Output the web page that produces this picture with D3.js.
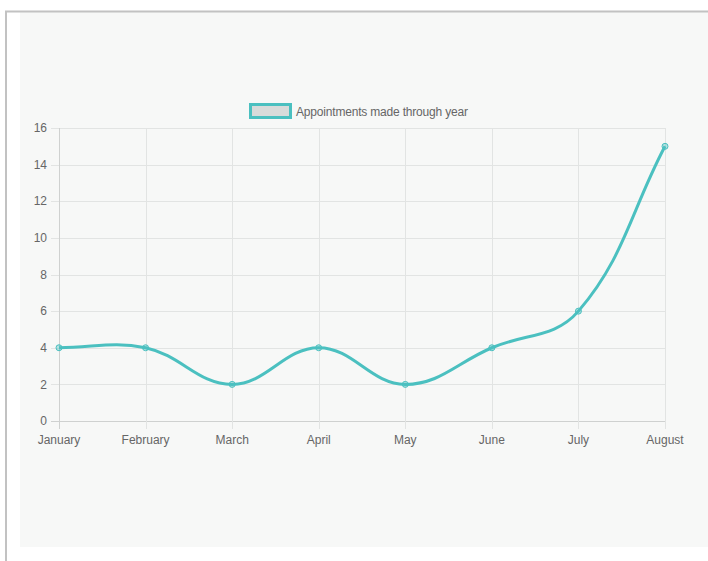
<!DOCTYPE html>
<html>
<head>
<meta charset="utf-8">
<script src="https://cdn.jsdelivr.net/npm/d3@7"></script>
<style>
  html, body { margin: 0; padding: 0; background: #ffffff; }
  svg { display: block; }
  text { font-family: "Liberation Sans", Arial, Helvetica, sans-serif; }
</style>
</head>
<body>
<script>
const months = ["January", "February", "March", "April", "May", "June", "July", "August"];
const appointments = [4, 4, 2, 4, 2, 4, 6, 15];
const yTicks = [0, 2, 4, 6, 8, 10, 12, 14, 16];
const seriesLabel = "Appointments made through year";

const W = 708, H = 561;
const svg = d3.select("body").append("svg").attr("width", W).attr("height", H);

// frame
svg.append("rect").attr("x", 20).attr("y", 12).attr("width", W - 20).attr("height", 535).attr("fill", "#f7f8f7");
svg.append("line").attr("x1", 6).attr("x2", 6).attr("y1", 11).attr("y2", H).attr("stroke", "#c2c2c2").attr("stroke-width", 2);
svg.append("line").attr("x1", 5).attr("x2", W).attr("y1", 11.5).attr("y2", 11.5).attr("stroke", "#c2c2c2").attr("stroke-width", 2);

const x = d3.scalePoint().domain(months).range([59, 665]);
const y = d3.scaleLinear().domain([0, 16]).range([421, 128]);

const gridColor = "#e2e4e3";
const tickLen = 8;

// horizontal grid
const g = svg.append("g");
g.selectAll(".hg").data(yTicks).enter().append("line")
  .attr("x1", 59 - tickLen).attr("x2", 665)
  .attr("y1", d => Math.round(y(d)) + 0.5).attr("y2", d => Math.round(y(d)) + 0.5)
  .attr("stroke", d => d === 0 ? "#cfd1d0" : gridColor).attr("stroke-width", 1);
// vertical grid
g.selectAll(".vg").data(months).enter().append("line")
  .attr("x1", d => Math.round(x(d)) + 0.5).attr("x2", d => Math.round(x(d)) + 0.5)
  .attr("y1", 128).attr("y2", 421 + tickLen)
  .attr("stroke", (d, i) => i === 0 ? "#cfd1d0" : gridColor).attr("stroke-width", 1);

// y labels
svg.selectAll(".yl").data(yTicks).enter().append("text")
  .attr("x", 47).attr("y", d => y(d)).attr("dy", "0.35em")
  .attr("text-anchor", "end").attr("font-size", 12).attr("fill", "#666")
  .text(d => d);
// x labels
svg.selectAll(".xl").data(months).enter().append("text")
  .attr("x", d => x(d)).attr("y", 444)
  .attr("text-anchor", "middle").attr("font-size", 12).attr("fill", "#666")
  .text(d => d);

// line: Chart.js-style spline (tension 0.4) built from scaled points
const teal = "rgb(75,192,192)";
const pts = appointments.map((d, i) => [x(months[i]), y(d)]);
const tension = 0.4;
const cps = pts.map((p, i) => {
  const prev = pts[i - 1] || p, next = pts[i + 1] || p;
  const d01 = Math.hypot(p[0] - prev[0], p[1] - prev[1]);
  const d12 = Math.hypot(next[0] - p[0], next[1] - p[1]);
  let s01 = d01 / (d01 + d12), s12 = d12 / (d01 + d12);
  if (!isFinite(s01)) s01 = 0;
  if (!isFinite(s12)) s12 = 0;
  const fa = tension * s01, fb = tension * s12;
  return {
    prev: [p[0] - fa * (next[0] - prev[0]), p[1] - fa * (next[1] - prev[1])],
    next: [p[0] + fb * (next[0] - prev[0]), p[1] + fb * (next[1] - prev[1])]
  };
});
const path = d3.path();
path.moveTo(pts[0][0], pts[0][1]);
for (let i = 1; i < pts.length; i++) {
  const a = cps[i - 1].next, b = cps[i].prev;
  path.bezierCurveTo(a[0], a[1], b[0], b[1], pts[i][0], pts[i][1]);
}
svg.append("path").attr("d", path.toString())
  .attr("fill", "none").attr("stroke", teal).attr("stroke-width", 3);

svg.selectAll(".pt").data(appointments).enter().append("circle")
  .attr("cx", (d, i) => x(months[i])).attr("cy", d => y(d)).attr("r", 3)
  .attr("fill", "rgba(75,192,192,0.4)").attr("stroke", teal).attr("stroke-width", 1);

// legend
const lg = svg.append("g");
lg.append("rect").attr("x", 250.5).attr("y", 104.5).attr("width", 40).attr("height", 13)
  .attr("fill", "#d8dbda").attr("stroke", teal).attr("stroke-width", 3);
lg.append("text").attr("x", 296).attr("y", 115.5).attr("font-size", 12).attr("fill", "#666")
  .attr("textLength", 172).attr("lengthAdjust", "spacing").text(seriesLabel);
</script>
</body>
</html>
